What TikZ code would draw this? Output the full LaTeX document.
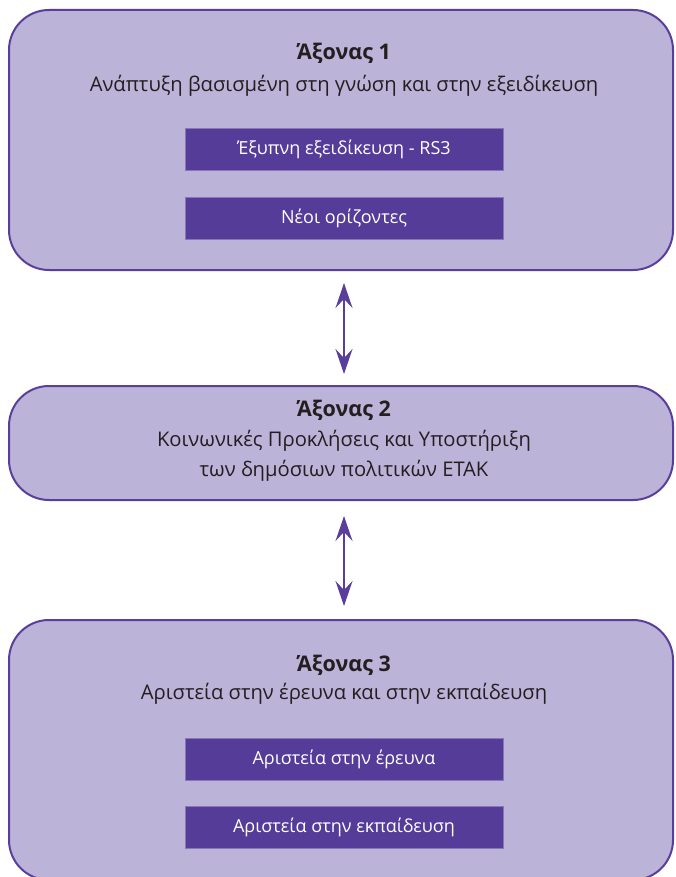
\documentclass[tikz,border=0pt]{standalone}
\usepackage{fontspec}
\setmainfont{Open Sans}
\usetikzlibrary{arrows.meta}
\definecolor{axisfill}{HTML}{BCB3D8}
\definecolor{axisline}{HTML}{5A3E9B}
\definecolor{subfill}{HTML}{553C98}
\definecolor{inktext}{HTML}{231F20}
\begin{document}
\begin{tikzpicture}[x=1pt,y=-1pt,
  axisbox/.style={draw=axisline, line width=2pt, fill=axisfill, rounded corners=40pt,
    minimum width=664pt, inner sep=0pt},
  subbox/.style={fill=subfill, draw=subfill!70!white, line width=0.6pt, minimum width=318pt, minimum height=42pt,
    inner sep=0pt, text=white, font=\fontsize{18}{20}\selectfont},
  titletext/.style={text=inktext, font=\fontsize{21.5}{24}\selectfont\bfseries},
  bodytext/.style={text=inktext, font=\fontsize{20.2}{30}\selectfont, align=center},
  link/.style={draw=axisline, line width=1.8pt,
    {Stealth[length=25pt,width=17pt,inset=9pt]}-{Stealth[length=25pt,width=17pt,inset=9pt]}}]
  \useasboundingbox (0,0) rectangle (675,877);
  \begin{scope}
    \clip (0,0) rectangle (675,877);
    % three axis panels
    \node[axisbox, minimum height=260pt] (b1) at (341,140) {};
    \node[axisbox, minimum height=114pt] (b2) at (341,443) {};
    \node[axisbox, minimum height=260pt] (b3) at (341,750) {};
  \end{scope}

  % axis 1
  \node[titletext] (t1) at (344,53) {Άξονας 1};
  \node[bodytext] (s1) at (344,86) {Ανάπτυξη βασισμένη στη γνώση και στην εξειδίκευση};
  \node[subbox] (p1) at (344,149) {Έξυπνη εξειδίκευση - RS3};
  \node[subbox] (p2) at (344,218.5) {Νέοι ορίζοντες};

  % axis 2
  \node[titletext] (t2) at (344,410) {Άξονας 2};
  \node[bodytext] (s2) at (344,456) {Κοινωνικές Προκλήσεις και Υποστήριξη\\των δημόσιων πολιτικών ΕΤΑΚ};

  % axis 3
  \node[titletext] (t3) at (344,665) {Άξονας 3};
  \node[bodytext] (s3) at (344,694) {Αριστεία στην έρευνα και στην εκπαίδευση};
  \node[subbox] (p3) at (344,759) {Αριστεία στην έρευνα};
  \node[subbox] (p4) at (344,827) {Αριστεία στην εκπαίδευση};

  % two-way links between the panels
  \draw[link, shorten <=12pt, shorten >=11pt] ([xshift=3pt]b1.south) -- ([xshift=3pt]b2.north);
  \draw[link, shorten <=15pt, shorten >=13pt] ([xshift=3pt]b2.south) -- ([xshift=3pt]b3.north);
\end{tikzpicture}
\end{document}
